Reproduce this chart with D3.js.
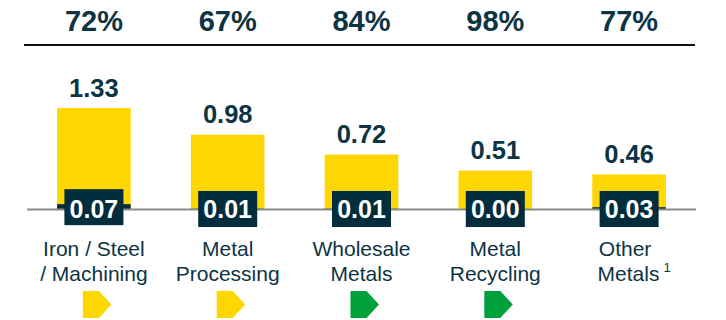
<!DOCTYPE html>
<html>
<head>
<meta charset="utf-8">
<script src="https://cdn.jsdelivr.net/npm/d3@7"></script>
<style>
  body { margin: 0; background: #fff; }
  svg { display: block; font-family: "Liberation Sans", Arial, sans-serif; }
</style>
</head>
<body>
<div class="canvas"></div>
<script>
// chart data
var categories = [["Iron / Steel", "/ Machining"], ["Metal", "Processing"], ["Wholesale", "Metals"], ["Metal", "Recycling"], ["Other", "Metals"]];
var shares = ["72%", "67%", "84%", "98%", "77%"];
var totals = [1.33, 0.98, 0.72, 0.51, 0.46];
var parts = [0.07, 0.01, 0.01, 0.00, 0.03];
var arrowColors = ["yellow", "yellow", "green", "green", null];
var footnotes = ["", "", "", "", "1"];

var width = 726, height = 320;
var yellow = "#fed700", dark = "#012d3c", ink = "#0d3443", green = "#00a03c";

var svg = d3.select('.canvas').append('svg')
	.attr('width', width).attr('height', height);

var x = d3.scaleBand()
	.domain(d3.range(categories.length))
	.range([27, 696])
	.paddingInner(0.45)
	.paddingOuter(0.225);

var y = d3.scaleLinear()
	.domain([0, 1.5])
	.range([209.5, 209.5 - 1.5 * 76.3]);

var cx = function (i) { return x(i) + x.bandwidth() / 2; };

// share labels + top rule
svg.selectAll('text.share')
	.data(shares)
	.enter().append('text')
	.attr('x', (d, i) => cx(i))
	.attr('y', 31)
	.attr('text-anchor', 'middle')
	.style('font-size', '29px')
	.style('font-weight', 'bold')
	.style('fill', ink)
	.text(d => d);

svg.append('line')
	.attr('x1', 24).attr('x2', 695)
	.attr('y1', 45).attr('y2', 45)
	.style('stroke', '#111').style('stroke-width', 2);

// yellow bars
svg.selectAll('rect.total')
	.data(totals)
	.enter().append('rect')
	.attr('x', (d, i) => x(i))
	.attr('y', d => y(d))
	.attr('width', x.bandwidth())
	.attr('height', d => y(0) - y(d))
	.style('fill', yellow);

// dark part bars
svg.selectAll('rect.part')
	.data(parts)
	.enter().append('rect')
	.attr('x', (d, i) => x(i))
	.attr('y', d => y(d))
	.attr('width', x.bandwidth())
	.attr('height', d => y(0) - y(d))
	.style('fill', dark);

// baseline
svg.append('line')
	.attr('x1', 27).attr('x2', 696)
	.attr('y1', y(0)).attr('y2', y(0))
	.style('stroke', '#8a8a8a').style('stroke-width', 2);

// total labels
svg.selectAll('text.total')
	.data(totals)
	.enter().append('text')
	.attr('x', (d, i) => cx(i))
	.attr('y', d => y(d) - 11.5)
	.attr('text-anchor', 'middle')
	.style('font-size', '25.5px')
	.style('font-weight', 'bold')
	.style('fill', ink)
	.text(d => d.toFixed(2));

// part label boxes
var boxW = 59, boxH = 35;
svg.selectAll('rect.box')
	.data(parts)
	.enter().append('rect')
	.attr('x', (d, i) => cx(i) - boxW / 2)
	.attr('y', d => Math.min(y(d) - 15, 191))
	.attr('width', boxW)
	.attr('height', boxH + 1)
	.style('fill', dark);

svg.selectAll('text.part')
	.data(parts)
	.enter().append('text')
	.attr('x', (d, i) => cx(i))
	.attr('y', 218)
	.attr('text-anchor', 'middle')
	.style('font-size', '25px')
	.style('font-weight', 'bold')
	.style('fill', '#fff')
	.text(d => d.toFixed(2));

// category labels
var cat = svg.selectAll('g.cat')
	.data(categories)
	.enter().append('g');

cat.append('text')
	.attr('x', (d, i) => cx(i) + (footnotes[i] ? -4 : 0))
	.attr('y', 256)
	.attr('text-anchor', 'middle')
	.style('font-size', '21px')
	.style('fill', ink)
	.text(d => d[0]);

var line2 = cat.append('text')
	.attr('x', (d, i) => cx(i) + (footnotes[i] ? 5 : 0))
	.attr('y', 281)
	.attr('text-anchor', 'middle')
	.style('font-size', '21px')
	.style('fill', ink);
line2.append('tspan').text(d => d[1]);
line2.append('tspan')
	.attr('dx', 4)
	.attr('dy', -9)
	.style('font-size', '13px')
	.text((d, i) => footnotes[i]);

// status arrows
var arrow = d3.line();
svg.selectAll('path.status')
	.data(arrowColors.map((s, i) => ({ s: s, i: i })).filter(d => d.s))
	.enter().append('path')
	.attr('d', function (d) {
		var l = cx(d.i) - 11, t = 291;
		return arrow([[l, t], [l + 16, t], [l + 28.5, t + 13.5], [l + 16, t + 27], [l, t + 27]]) + 'Z';
	})
	.style('fill', d => d.s === 'green' ? green : yellow);
</script>
</body>
</html>
